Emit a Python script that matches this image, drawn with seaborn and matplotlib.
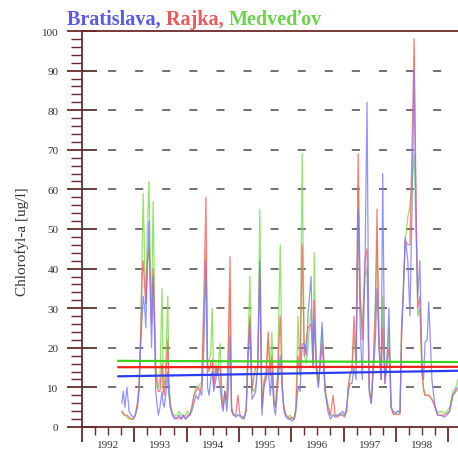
import matplotlib
matplotlib.use("Agg")
import matplotlib.pyplot as plt
from matplotlib.ticker import FixedLocator, FixedFormatter, NullFormatter
import pandas as pd
import seaborn as sns

# Sampling dates (decimal years) shared by the three stations
dates = [
    1992.76, 1992.79, 1992.82, 1992.86, 1992.90, 1992.94, 1992.98, 1993.02, 1993.06, 1993.09,
    1993.12, 1993.15, 1993.17, 1993.20, 1993.22, 1993.25, 1993.28, 1993.31, 1993.33, 1993.36,
    1993.39, 1993.41, 1993.44, 1993.46, 1993.49, 1993.53, 1993.55, 1993.57, 1993.60, 1993.64,
    1993.66, 1993.69, 1993.73, 1993.77, 1993.82, 1993.86, 1993.90, 1993.94, 1993.98, 1994.02,
    1994.06, 1994.10, 1994.14, 1994.18, 1994.22, 1994.26, 1994.29, 1994.33, 1994.37, 1994.40,
    1994.43, 1994.46, 1994.49, 1994.52, 1994.56, 1994.59, 1994.64, 1994.68, 1994.70, 1994.73,
    1994.77, 1994.80, 1994.83, 1994.86, 1994.90, 1994.94, 1994.98, 1995.02, 1995.06, 1995.10,
    1995.14, 1995.17, 1995.21, 1995.25, 1995.29, 1995.32, 1995.36, 1995.40, 1995.44, 1995.48,
    1995.52, 1995.56, 1995.60, 1995.63, 1995.67, 1995.70, 1995.74, 1995.79, 1995.83, 1995.86,
    1995.90, 1995.94, 1995.98, 1996.02, 1996.06, 1996.09, 1996.13, 1996.17, 1996.21, 1996.25,
    1996.29, 1996.32, 1996.38, 1996.42, 1996.44, 1996.48, 1996.52, 1996.56, 1996.59, 1996.65,
    1996.70, 1996.75, 1996.80, 1996.84, 1996.88, 1996.93, 1996.98, 1997.02, 1997.06, 1997.09,
    1997.13, 1997.16, 1997.20, 1997.24, 1997.28, 1997.32, 1997.36, 1997.41, 1997.45, 1997.49,
    1997.53, 1997.57, 1997.61, 1997.64, 1997.68, 1997.72, 1997.75, 1997.79, 1997.83, 1997.87,
    1997.91, 1997.95, 1998.00, 1998.04, 1998.08, 1998.11, 1998.14, 1998.18, 1998.23, 1998.27,
    1998.31, 1998.35, 1998.39, 1998.42, 1998.46, 1998.50, 1998.53, 1998.56, 1998.60, 1998.63,
    1998.69, 1998.75, 1998.80, 1998.86, 1998.92, 1998.98, 1999.03, 1999.09, 1999.15, 1999.19,
]

# Chlorophyll-a [ug/l] at each station
bratislava = [
    6, 9, 5, 10, 4, 3, 2.5, 3, 5, 9,
    20, 28, 33, 30, 25, 40, 52, 30, 20, 38,
    22, 9, 5, 3, 5, 9, 6, 5, 8, 14,
    8, 5, 3, 2, 2.5, 3, 2, 3, 2, 2.5,
    3, 4, 6, 8, 7, 9, 8, 20, 42, 10,
    8, 12, 14, 9, 12, 15, 10, 5, 4, 9,
    4, 10, 23, 5, 3, 2.5, 3, 3, 2.5, 2,
    5, 15, 26, 7, 8, 9, 15, 42, 3, 10,
    12, 15, 8, 14, 5, 3, 10, 18, 9, 4,
    2.5, 2, 2, 1.5, 2, 4, 10, 9, 21, 21,
    18, 28, 38, 15, 27, 17, 10, 18, 26.5, 9,
    4, 2, 3, 2.5, 3, 3, 4, 3, 5, 9,
    11, 11, 15, 12, 55, 25, 12, 40, 82, 9,
    6, 14, 22, 35, 20, 12, 64, 11, 16, 30,
    5, 4, 3.5, 4, 3.5, 22, 33, 48, 42, 28,
    55, 90, 50, 33, 42, 16, 12, 21.5, 22, 31.6,
    12, 5, 3, 3, 2.5, 3, 4, 8, 9.6, 10,
]
rajka = [
    4, 3.5, 3, 3, 2.5, 2, 2, 3, 6, 10,
    22, 38, 42, 35, 31, 42, 45, 35, 26, 40,
    25, 14, 10, 9, 9, 16, 10, 8, 12, 22,
    10, 5, 3, 2.5, 2, 2.5, 2, 3, 2, 3,
    3, 5, 8, 9, 10, 9, 11, 33, 58, 16,
    14, 16, 17, 10, 15, 14, 15, 6, 5, 9,
    7, 22, 43, 4, 3, 3, 8, 3, 2.5, 2.5,
    4, 18, 28, 9, 13, 15, 15, 40, 5, 11,
    14, 24, 13, 18, 6, 5, 13, 28, 10, 5,
    3, 2.5, 2, 2.5, 2, 5, 18, 13, 46, 18,
    22, 25, 26, 15, 32, 15, 11, 16, 21, 9,
    5, 3, 8, 3, 2.5, 3, 3, 2.5, 4, 10,
    14, 14, 28, 16, 69, 33, 22, 42, 45, 10,
    6, 16, 30, 55, 20, 12, 25, 11, 16, 20,
    5, 3.2, 3.2, 3.2, 3.2, 25, 33, 47, 46, 46,
    70, 98, 55, 30, 33, 14, 10, 8, 8, 8,
    7, 5, 3, 3, 3, 3.5, 4, 8, 9, 9.6,
]
medvedov = [
    4, 3, 3, 2.5, 2, 2, 2, 3, 6, 10,
    24, 45, 59, 40, 31, 50, 62, 38, 28, 57,
    30, 16, 12, 10, 12, 35, 14, 9, 15, 33,
    12, 6, 3.5, 3, 3, 4, 3, 2.5, 3, 4,
    3, 5, 8, 10, 10, 11, 11, 28, 45, 16,
    17, 18, 30, 11, 16, 13, 21, 6, 5, 9,
    6, 20, 35, 4, 3, 3, 3, 2.5, 2, 2.5,
    4, 18, 38, 10, 9, 10, 16, 55, 5, 12,
    13, 22, 13, 24, 7, 5, 13, 46, 10, 5,
    3, 2.5, 3, 2, 2.5, 5, 28, 14, 69, 18,
    16, 20, 30, 16, 44, 14, 10, 20, 25, 9,
    6, 3, 3, 3, 3, 3.5, 3, 3, 4, 10,
    13, 14, 23, 16, 61, 33, 25, 38, 40, 10,
    6, 16, 32, 47, 22, 12, 33, 12, 17, 25,
    5, 3.5, 3.5, 4, 4, 25, 33, 47, 53, 56,
    62, 69, 48, 28, 30, 14, 9, 8, 8, 8,
    7, 5.5, 3.5, 4, 3.5, 4, 5, 9, 10, 12,
]

# Linear trend of each station, given at the ends of the record
trend_dates = [1992.69, 1999.19]
trend_bratislava = [12.8, 14.2]
trend_rajka = [15.1, 15.2]
trend_medvedov = [16.7, 16.4]

stations = ["Bratislava", "Rajka", "Medveďov"]
year_ticks = [1992, 1993, 1994, 1995, 1996, 1997, 1998, 1999]
year_labels = ["1992", "1993", "1994", "1995", "1996", "1997", "1998"]
y_ticks = [0, 10, 20, 30, 40, 50, 60, 70, 80, 90, 100]
grid_levels = [10, 20, 30, 40, 50, 60, 70, 80, 90]

series_colors = {"Bratislava": "#7878ff", "Rajka": "#ff5c5c", "Medveďov": "#78dc48"}
trend_colors = {"Bratislava": "#2b3cf0", "Rajka": "#f02020", "Medveďov": "#3fd21c"}
title_colors = ["#5a5ae6", "#e65a5a", "#6cd44a"]
axis_color = "#6b2a2a"
text_color = "#333333"

sns.set_style("white")
plt.rcParams["font.family"] = ["Liberation Serif", "DejaVu Serif"]
plt.rcParams["lines.scale_dashes"] = False

df = pd.DataFrame({
    "date": dates * 3,
    "value": bratislava + rajka + medvedov,
    "station": [stations[0]] * len(dates) + [stations[1]] * len(dates) + [stations[2]] * len(dates),
})
trend_df = pd.DataFrame({
    "date": trend_dates * 3,
    "value": trend_bratislava + trend_rajka + trend_medvedov,
    "station": [s for s in stations for _ in trend_dates],
})

W, H = 458, 452
fig = plt.figure(figsize=(W / 100, H / 100), dpi=100)
ax = fig.add_axes([82 / W, 24 / H, 376 / W, 396 / H])

# dashed horizontal guide lines
for lev in grid_levels:
    ax.axhline(lev, color="#4a4a4a", lw=1.1, linestyle=(0.72, (5.8, 13.7)), zorder=1)

sns.lineplot(data=df, x="date", y="value", hue="station",
             hue_order=["Medveďov", "Rajka", "Bratislava"], palette=series_colors,
             estimator=None, sort=False, lw=0.9, alpha=0.8, legend=False, ax=ax, zorder=2)
sns.lineplot(data=trend_df, x="date", y="value", hue="station",
             hue_order=stations, palette=trend_colors,
             estimator=None, sort=False, lw=1.6, legend=False, ax=ax, zorder=3)

ax.set_xlim(1992, 1992 + 376 / 52.3)
ax.set_ylim(0, 100)

for side in ["left", "bottom", "top"]:
    ax.spines[side].set_color(axis_color)
    ax.spines[side].set_linewidth(1.3)
ax.spines["right"].set_visible(False)

# y axis: crossing major ticks every 10, minor ticks every 2
ax.yaxis.set_major_locator(FixedLocator(y_ticks))
ax.yaxis.set_minor_locator(FixedLocator([v for v in range(0, 101, 2) if v % 10]))
ax.tick_params(axis="y", which="major", direction="inout", length=22, width=1.3,
               color=axis_color, labelsize=8, labelcolor=text_color, pad=6, left=True)
ax.tick_params(axis="y", which="minor", direction="out", length=8, width=1.0,
               color=axis_color, left=True)

# x axis: year boundaries as major ticks, quarters as minor ticks, year names mid-year
quarters = [y + q for y in year_ticks[:-1] for q in (0.25, 0.5, 0.75)]
quarter_labels = []
for y in year_labels:
    quarter_labels += ["", y, ""]
ax.xaxis.set_major_locator(FixedLocator(year_ticks))
ax.xaxis.set_major_formatter(NullFormatter())
ax.xaxis.set_minor_locator(FixedLocator(quarters))
ax.xaxis.set_minor_formatter(FixedFormatter(quarter_labels))
ax.tick_params(axis="x", which="major", direction="out", length=11, width=1.3,
               color=axis_color, bottom=True)
ax.tick_params(axis="x", which="minor", direction="out", length=6, width=1.0,
               color=axis_color, labelsize=8, labelcolor=text_color, pad=3.5, bottom=True)

ax.set_xlabel("")
ax.set_ylabel("Chlorofyl-a [ug/l]", fontsize=11, color=text_color)
ax.yaxis.set_label_coords(-0.142, 0.47)

# multicoloured title
parts = ["Bratislava, ", "Rajka, ", "Medveďov"]
prev = fig.text(67 / W, (H - 30) / H, parts[0], color=title_colors[0],
                fontsize=14.5, fontweight="bold", ha="left", va="bottom")
for txt, col in zip(parts[1:], title_colors[1:]):
    prev = ax.annotate(txt, xy=(1, 0), xycoords=prev, color=col, fontsize=14.5,
                       fontweight="bold", ha="left", va="bottom", annotation_clip=False)

fig.savefig("out.png", dpi=100)
